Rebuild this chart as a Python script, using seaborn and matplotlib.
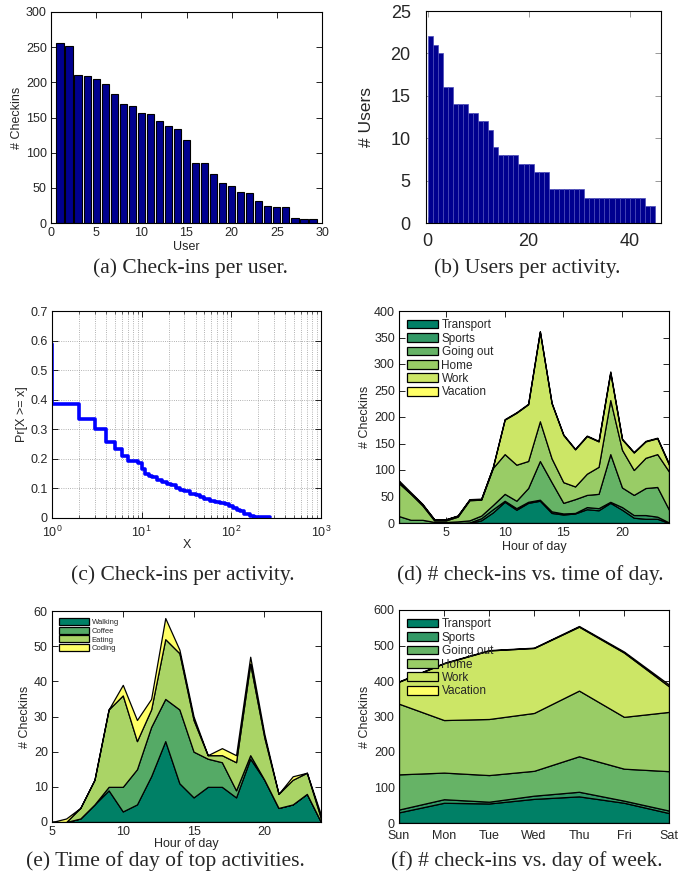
import numpy as np
import pandas as pd
import matplotlib
matplotlib.use("Agg")
import matplotlib.pyplot as plt
import seaborn as sns

# ---------------- data ----------------
# (a) check-ins per user
users = list(range(1, 30))
checkins_per_user = [256, 251, 210, 209, 205, 197, 184, 169, 167, 156, 155, 145,
                     138, 133, 118, 86, 85, 70, 57, 53, 44, 42, 31, 24, 23, 23, 7, 6, 6]

# (b) users per activity (activities ranked)
users_per_activity = [22, 21, 20, 16, 16, 14, 14, 14, 13, 13, 12, 12, 11, 9, 8, 8, 8, 8,
                      7, 7, 7, 6, 6, 6, 4, 4, 4, 4, 4, 4, 4, 3, 3, 3, 3, 3, 3, 3, 3, 3,
                      3, 3, 3, 2, 2]
activity_pos = [i + 0.5 for i in range(len(users_per_activity))]

# (c) CCDF of check-ins per activity (step breakpoints)
ccdf_x = [1, 1, 2, 3, 4, 5, 6, 7, 9, 10, 11, 12, 13, 15, 17, 19, 21, 24, 27, 30, 35,
          40, 45, 50, 58, 65, 75, 85, 95, 105, 115, 125, 140, 160, 180, 200, 270]
ccdf_y = [0.59, 0.385, 0.335, 0.30, 0.257, 0.232, 0.211, 0.193, 0.186, 0.165, 0.150,
          0.142, 0.137, 0.130, 0.123, 0.116, 0.110, 0.100, 0.093, 0.090, 0.082, 0.077,
          0.070, 0.064, 0.057, 0.054, 0.050, 0.046, 0.040, 0.033, 0.028, 0.022, 0.014,
          0.008, 0.004, 0.003, 0.003]

# (d) check-ins vs hour of day
hours_d = list(range(1, 25))
d_labels = ["Transport", "Sports", "Going out", "Home", "Work", "Vacation"]
d_transport = [0, 0, 0, 0, 0, 0, 0, 5, 20, 40, 25, 38, 42, 19, 16, 18, 26, 24, 38, 25, 10, 8, 8, 0]
d_sports = [0, 0, 0, 0, 0, 0, 1, 4, 6, 2, 3, 2, 2, 3, 2, 1, 4, 4, 2, 5, 5, 7, 4, 1]
d_goingout = [13, 6, 6, 2, 2, 3, 4, 5, 8, 13, 14, 26, 73, 55, 20, 26, 23, 27, 90, 37, 38, 51, 56, 24]
d_home = [62, 49, 27, 3, 3, 9, 38, 30, 70, 75, 68, 51, 75, 45, 39, 24, 40, 51, 102, 71, 47, 57, 62, 72]
d_work = [2, 1, 2, 2, 2, 2, 1, 1, 2, 65, 98, 107, 169, 104, 89, 70, 71, 48, 52, 20, 33, 31, 30, 13]
d_vacation = [3, 2, 1, 0, 0, 0, 1, 1, 0, 1, 1, 1, 1, 1, 1, 1, 1, 1, 2, 1, 1, 1, 1, 2]

# (e) top activities vs hour of day
hours_e = list(range(5, 25))
e_labels = ["Walking", "Coffee", "Eating", "Coding"]
e_walking = [0, 0, 1, 5, 9, 3, 5, 13, 23, 11, 7, 10, 10, 7, 18, 12, 4, 5, 8, 0]
e_coffee = [0, 0, 0, 0, 1, 7, 10, 14, 12, 21, 13, 8, 7, 2, 1, 0, 0, 0, 0, 0]
e_eating = [0, 0, 3, 7, 22, 26, 8, 5, 17, 16, 9, 1, 2, 8, 26, 12, 4, 7, 6, 1]
e_coding = [0, 1, 0, 0, 0, 3, 6, 3, 6, 1, 1, 0, 2, 2, 2, 1, 0, 1, 0, 1]

# (f) check-ins vs day of week
days = ["Sun", "Mon", "Tue", "Wed", "Thu", "Fri", "Sat"]
f_transport = [30, 57, 55, 68, 75, 57, 28]
f_sports = [8, 10, 5, 9, 13, 6, 7]
f_goingout = [99, 75, 75, 70, 100, 90, 111]
f_home = [199, 148, 158, 163, 185, 146, 167]
f_work = [62, 160, 193, 183, 180, 181, 72]
f_vacation = [1, 1, 1, 1, 2, 3, 5]

# ---------------- style ----------------
sns.set_style("ticks")
plt.rcParams["font.family"] = ["Liberation Sans", "DejaVu Sans"]
plt.rcParams["axes.linewidth"] = 0.8
plt.rcParams["mathtext.default"] = "regular"

W, H = 692, 882
fig = plt.figure(figsize=(W / 100, H / 100), dpi=100)


def add_ax(l, t, r, b):
    return fig.add_axes([l / W, 1 - b / H, (r - l) / W, (b - t) / H])


def matlab_ticks(ax, size=9, color="black"):
    ax.tick_params(direction="in", top=True, right=True, length=4, width=0.6,
                   labelsize=size, color=color, pad=3)
    for s in ax.spines.values():
        s.set_visible(True)
        s.set_color("black")


summer6 = [plt.cm.summer(t) for t in np.linspace(0, 1, 6)]
summer4 = [plt.cm.summer(t) for t in np.linspace(0, 1, 4)]

# (a)
ax = add_ax(51, 12, 322, 223)
sns.barplot(x=users, y=checkins_per_user, native_scale=True, color="#00008F",
            saturation=1, edgecolor="black", linewidth=0.8, width=0.8,
            errorbar=None, ax=ax)
ax.set_xlim(0, 30)
ax.set_ylim(0, 300)
ax.set_xticks([0, 5, 10, 15, 20, 25, 30])
ax.set_yticks([0, 50, 100, 150, 200, 250, 300])
ax.set_xlabel("User", fontsize=9, labelpad=1)
ax.set_ylabel("# Checkins", fontsize=9, labelpad=2)
matlab_ticks(ax, 9)

# (b)
ax = add_ax(426, 11, 661, 223)
sns.barplot(x=activity_pos, y=users_per_activity, native_scale=True, color="#00008F",
            saturation=1, edgecolor="#4a4ab8", linewidth=0.5, width=1.0,
            errorbar=None, ax=ax)
ax.set_xlim(-0.3, 46.2)
ax.set_ylim(0, 25)
ax.set_xticks([0, 20, 40])
ax.set_yticks([0, 5, 10, 15, 20, 25])
ax.set_xlabel("")
ax.set_ylabel("# Users", fontsize=12.5, labelpad=12)
matlab_ticks(ax, 13, color="#888888")
ax.tick_params(axis="y", pad=11)
ax.tick_params(axis="x", pad=7)

# (c)
ax = add_ax(52, 311, 321, 518)
sns.lineplot(x=ccdf_x, y=ccdf_y, estimator=None, sort=False, drawstyle="steps-post",
             color="#0000FF", linewidth=2.6, ax=ax)
ax.set_xscale("log")
ax.set_xlim(1, 1000)
ax.set_ylim(0, 0.7)
ax.set_yticks(np.arange(0, 0.71, 0.1))
ax.set_yticklabels(["0"] + [f"{v:.1f}" for v in np.arange(0.1, 0.71, 0.1)])
ax.grid(True, which="both", axis="x", ls=":", color="#999999", lw=0.6)
ax.grid(True, which="major", axis="y", ls=":", color="#999999", lw=0.6)
ax.set_xlabel("X", fontsize=9, labelpad=-1)
ax.set_ylabel("Pr[X >= x]", fontsize=9, labelpad=2)
matlab_ticks(ax, 9)
ax.tick_params(axis="x", pad=5)
ax.tick_params(which="minor", direction="in", top=True, right=True, length=2, width=0.5)

# (d)
leg_kw = dict(loc="upper left", frameon=False, fontsize=8.5, handlelength=2.6,
              handleheight=0.75, labelspacing=0.12, handletextpad=0.3,
              borderaxespad=0.3)
ax = add_ax(399, 311, 669, 523)
ax.stackplot(hours_d, d_transport, d_sports, d_goingout, d_home, d_work, d_vacation,
             colors=summer6, edgecolor="black", linewidth=0.9, labels=d_labels)
ax.set_xlim(1, 24)
ax.set_ylim(0, 400)
ax.set_xticks([5, 10, 15, 20])
ax.set_yticks(range(0, 401, 50))
ax.set_xlabel("Hour of day", fontsize=9, labelpad=1)
ax.set_ylabel("# Checkins", fontsize=9, labelpad=2)
matlab_ticks(ax, 9)
ax.legend(**leg_kw)

# (e)
ax = add_ax(52, 611, 321, 822)
ax.stackplot(hours_e, e_walking, e_coffee, e_eating, e_coding,
             colors=summer4, edgecolor="black", linewidth=0.9, labels=e_labels)
ax.set_xlim(5, 24)
ax.set_ylim(0, 60)
ax.set_xticks([5, 10, 15, 20])
ax.set_yticks(range(0, 61, 10))
ax.set_xlabel("Hour of day", fontsize=9, labelpad=0)
ax.set_ylabel("# Checkins", fontsize=9, labelpad=2)
matlab_ticks(ax, 9)
ax.legend(loc="upper left", frameon=False, fontsize=5.5, handlelength=4.0,
          handleheight=1.0, labelspacing=0.1, handletextpad=0.3,
          borderaxespad=0.5)

# (f)
ax = add_ax(399, 610, 669, 823)
xd = list(range(1, 8))
ax.stackplot(xd, f_transport, f_sports, f_goingout, f_home, f_work, f_vacation,
             colors=summer6, edgecolor="black", linewidth=0.9, labels=d_labels)
ax.set_xlim(1, 7)
ax.set_ylim(0, 600)
ax.set_xticks(xd)
ax.set_xticklabels(days)
ax.set_yticks(range(0, 601, 100))
ax.set_ylabel("# Checkins", fontsize=9, labelpad=2)
matlab_ticks(ax, 9)
ax.tick_params(axis="x", pad=5)
ax.legend(**leg_kw)

# captions
cap = dict(ha="center", va="center", family=["Liberation Serif", "DejaVu Serif"], size=15.5)
fig.text(190 / W, 1 - 268 / H, "(a) Check-ins per user.", **cap)
fig.text(527 / W, 1 - 268 / H, "(b) Users per activity.", **cap)
fig.text(183 / W, 1 - 575 / H, "(c) Check-ins per activity.", **cap)
fig.text(530 / W, 1 - 575 / H, "(d) # check-ins vs. time of day.", **cap)
fig.text(165 / W, 1 - 861 / H, "(e) Time of day of top activities.", **cap)
fig.text(527 / W, 1 - 861 / H, "(f) # check-ins vs. day of week.", **cap)

fig.savefig("out.png", dpi=100)
